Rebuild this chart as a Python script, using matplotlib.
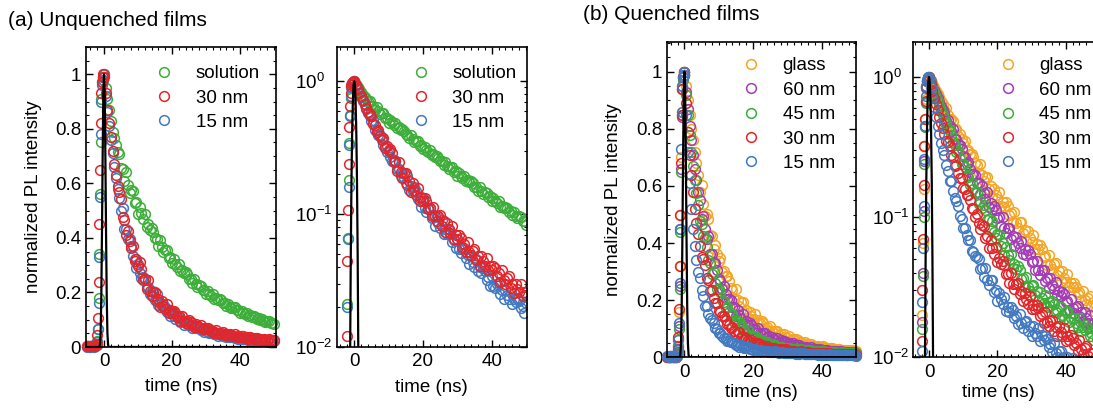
import numpy as np
import matplotlib
matplotlib.use("Agg")
import matplotlib.pyplot as plt
from matplotlib.ticker import MultipleLocator

plt.rcParams['font.family'] = ['Liberation Sans', 'DejaVu Sans']
plt.rcParams['mathtext.fontset'] = 'custom'
plt.rcParams['mathtext.rm'] = 'Liberation Sans'
plt.rcParams['mathtext.it'] = 'Liberation Sans:italic'
plt.rcParams['mathtext.default'] = 'regular'

# time axis (ns): baseline, rising edge, decay
t = [-5.0, -4.6, -4.2, -3.8, -3.4, -3.0, -2.6,
     -2.2, -2.0, -1.8, -1.6, -1.4, -1.2, -1.0, -0.8, -0.6, -0.4, -0.2, 0.0,
     0.5, 1.0, 1.5, 2.0, 2.5, 3.0, 3.5, 4.0,
     4.5, 5.0, 5.5, 6.0, 6.5, 7.0, 7.5, 8.0, 8.5, 9.0,
     9.5, 10.0, 10.5, 11.0, 11.5, 12.0, 12.5, 13.0, 13.5, 14.0,
     14.5, 15.0, 15.5, 16.0, 16.5, 17.0, 17.5, 18.0, 18.5, 19.0,
     19.5, 20.0, 20.5, 21.0, 21.5, 22.0, 22.5, 23.0, 23.5, 24.0,
     24.5, 25.0, 25.5, 26.0, 26.5, 27.0, 27.5, 28.0, 28.5, 29.0,
     29.5, 30.0, 30.5, 31.0, 31.5, 32.0, 32.5, 33.0, 33.5, 34.0,
     34.5, 35.0, 35.5, 36.0, 36.5, 37.0, 37.5, 38.0, 38.5, 39.0,
     39.5, 40.0, 40.5, 41.0, 41.5, 42.0, 42.5, 43.0, 43.5, 44.0,
     44.5, 45.0, 45.5, 46.0, 46.5, 47.0, 47.5, 48.0, 48.5, 49.0,
     49.5, 50.0]

# (a) unquenched films
solution = [0.002, 0.003, 0.001, 0.002, 0.003, 0.002, 0.004,
            0.008, 0.021, 0.066, 0.18, 0.34, 0.56, 0.75, 0.91, 0.97, 0.99, 0.98, 1.0,
            0.95, 0.91, 0.87, 0.83, 0.79, 0.765, 0.74, 0.715,
            0.707, 0.656, 0.652, 0.607, 0.640, 0.593, 0.566, 0.575, 0.572, 0.527,
            0.531, 0.489, 0.515, 0.490, 0.468, 0.487, 0.441, 0.450, 0.429, 0.435,
            0.422, 0.398, 0.397, 0.371, 0.393, 0.366, 0.349, 0.356, 0.354, 0.327,
            0.331, 0.307, 0.321, 0.305, 0.293, 0.306, 0.277, 0.283, 0.271, 0.276,
            0.266, 0.250, 0.250, 0.234, 0.248, 0.230, 0.220, 0.226, 0.225, 0.208,
            0.210, 0.194, 0.205, 0.195, 0.187, 0.195, 0.177, 0.180, 0.173, 0.177,
            0.171, 0.160, 0.161, 0.150, 0.159, 0.148, 0.142, 0.146, 0.145, 0.134,
            0.136, 0.125, 0.132, 0.126, 0.121, 0.126, 0.113, 0.116, 0.111, 0.114,
            0.111, 0.104, 0.105, 0.098, 0.104, 0.097, 0.093, 0.096, 0.095, 0.088,
            0.089, 0.083]
u30 = [0.003, 0.002, 0.004, 0.002, 0.003, 0.005, 0.004,
       0.012, 0.044, 0.107, 0.24, 0.45, 0.65, 0.82, 0.93, 0.97, 0.99, 1.0, 0.99,
       0.93, 0.87, 0.82, 0.77, 0.72, 0.67, 0.63, 0.59,
       0.567, 0.543, 0.475, 0.467, 0.412, 0.426, 0.390, 0.362, 0.371, 0.317,
       0.324, 0.296, 0.311, 0.286, 0.245, 0.249, 0.212, 0.245, 0.206, 0.188,
       0.203, 0.203, 0.167, 0.176, 0.147, 0.170, 0.152, 0.139, 0.158, 0.126,
       0.135, 0.125, 0.133, 0.125, 0.109, 0.112, 0.096, 0.114, 0.096, 0.089,
       0.097, 0.098, 0.082, 0.088, 0.073, 0.086, 0.077, 0.072, 0.081, 0.065,
       0.070, 0.065, 0.070, 0.066, 0.057, 0.060, 0.052, 0.062, 0.052, 0.049,
       0.053, 0.055, 0.045, 0.048, 0.041, 0.048, 0.044, 0.041, 0.047, 0.038,
       0.041, 0.038, 0.041, 0.039, 0.034, 0.036, 0.031, 0.038, 0.032, 0.030,
       0.033, 0.034, 0.028, 0.030, 0.0255, 0.030, 0.0275, 0.026, 0.030, 0.024,
       0.026, 0.0246]
u15 = [0.001, 0.002, 0.001, 0.003, 0.002, 0.001, 0.003,
       0.008, 0.02, 0.065, 0.16, 0.33, 0.55, 0.78, 0.9, 0.96, 0.98, 0.99, 1.0,
       0.92, 0.86, 0.81, 0.76, 0.71, 0.66, 0.62, 0.58,
       0.545, 0.499, 0.509, 0.433, 0.431, 0.397, 0.397, 0.371, 0.333, 0.323,
       0.291, 0.305, 0.271, 0.252, 0.256, 0.249, 0.220, 0.219, 0.195, 0.204,
       0.188, 0.172, 0.193, 0.153, 0.163, 0.150, 0.159, 0.148, 0.129, 0.132,
       0.114, 0.133, 0.112, 0.103, 0.112, 0.112, 0.093, 0.099, 0.082, 0.096,
       0.086, 0.079, 0.090, 0.071, 0.077, 0.071, 0.076, 0.071, 0.062, 0.064,
       0.0555, 0.065, 0.055, 0.051, 0.055, 0.056, 0.0465, 0.049, 0.042, 0.048,
       0.0435, 0.040, 0.046, 0.037, 0.040, 0.036, 0.039, 0.037, 0.032, 0.0335,
       0.029, 0.034, 0.029, 0.028, 0.030, 0.0305, 0.025, 0.027, 0.023, 0.027,
       0.0245, 0.023, 0.026, 0.021, 0.023, 0.0217, 0.0234, 0.0223, 0.0196, 0.0203,
       0.018, 0.0215]

# (b) quenched films
glass = [0.002, 0.001, 0.002, 0.003, 0.001, 0.002, 0.002,
         0.006, 0.02, 0.065, 0.16, 0.32, 0.50, 0.70, 0.86, 0.95, 0.98, 1.0, 0.99,
         0.95, 0.90, 0.85, 0.80, 0.76, 0.72, 0.68, 0.64,
         0.580, 0.605, 0.536, 0.495, 0.501, 0.486, 0.429, 0.426, 0.379, 0.394,
         0.362, 0.337, 0.347, 0.298, 0.301, 0.283, 0.284, 0.268, 0.242, 0.237,
         0.205, 0.238, 0.199, 0.181, 0.195, 0.194, 0.160, 0.167, 0.139, 0.159,
         0.144, 0.134, 0.151, 0.120, 0.129, 0.119, 0.128, 0.120, 0.104, 0.107,
         0.092, 0.108, 0.091, 0.084, 0.092, 0.093, 0.077, 0.081, 0.068, 0.080,
         0.071, 0.066, 0.074, 0.059, 0.064, 0.059, 0.063, 0.059, 0.052, 0.053,
         0.0455, 0.054, 0.0456, 0.0426, 0.046, 0.047, 0.0385, 0.041, 0.035, 0.041,
         0.037, 0.0344, 0.039, 0.0315, 0.034, 0.0315, 0.0338, 0.0318, 0.0282, 0.0294,
         0.0255, 0.0298, 0.0257, 0.024, 0.0266, 0.0273, 0.023, 0.0247, 0.021, 0.0247,
         0.0225, 0.021]
q60 = [0.001, 0.002, 0.002, 0.001, 0.003, 0.002, 0.001,
       0.005, 0.018, 0.04, 0.11, 0.25, 0.45, 0.66, 0.84, 0.94, 0.98, 0.99, 1.0,
       0.93, 0.87, 0.81, 0.76, 0.71, 0.66, 0.62, 0.58,
       0.551, 0.483, 0.496, 0.450, 0.415, 0.424, 0.363, 0.360, 0.331, 0.329,
       0.306, 0.274, 0.267, 0.239, 0.249, 0.222, 0.204, 0.204, 0.199, 0.175,
       0.176, 0.146, 0.167, 0.148, 0.135, 0.151, 0.118, 0.126, 0.114, 0.121,
       0.113, 0.098, 0.100, 0.086, 0.101, 0.084, 0.077, 0.084, 0.084, 0.070,
       0.073, 0.062, 0.072, 0.065, 0.060, 0.068, 0.055, 0.059, 0.054, 0.058,
       0.0546, 0.048, 0.0487, 0.042, 0.049, 0.0417, 0.0384, 0.0418, 0.042, 0.0348,
       0.037, 0.0313, 0.0366, 0.033, 0.0306, 0.0347, 0.0278, 0.0299, 0.0276, 0.0294,
       0.0281, 0.0248, 0.0254, 0.0218, 0.026, 0.0223, 0.0208, 0.023, 0.0234, 0.0197,
       0.0211, 0.0179, 0.021, 0.019, 0.0177, 0.0202, 0.0162, 0.0175, 0.0165, 0.018,
       0.0172, 0.0153]
q45 = [0.002, 0.001, 0.003, 0.002, 0.002, 0.001, 0.002,
       0.006, 0.016, 0.038, 0.10, 0.24, 0.44, 0.65, 0.85, 0.94, 0.97, 0.99, 1.0,
       0.92, 0.85, 0.78, 0.72, 0.67, 0.62, 0.575, 0.535,
       0.477, 0.467, 0.426, 0.418, 0.385, 0.342, 0.330, 0.291, 0.299, 0.261,
       0.240, 0.238, 0.228, 0.199, 0.195, 0.171, 0.176, 0.160, 0.148, 0.151,
       0.124, 0.130, 0.117, 0.122, 0.112, 0.0955, 0.0964, 0.0819, 0.0939, 0.0786,
       0.0712, 0.0763, 0.0752, 0.062, 0.0649, 0.0537, 0.0613, 0.054, 0.0492, 0.0549,
       0.0435, 0.0464, 0.0424, 0.0447, 0.0419, 0.0363, 0.037, 0.0319, 0.0376, 0.032,
       0.0296, 0.0324, 0.0327, 0.0277, 0.0297, 0.0251, 0.0292, 0.0265, 0.0246, 0.028,
       0.0227, 0.0247, 0.0231, 0.0251, 0.0239, 0.021, 0.0218, 0.0191, 0.0229, 0.0199,
       0.0187, 0.0209, 0.0213, 0.0179, 0.0191, 0.0161, 0.0191, 0.0175, 0.0164, 0.019,
       0.0153, 0.0165, 0.0156, 0.0169, 0.0161, 0.0143, 0.015, 0.0132, 0.0157, 0.0136,
       0.0128, 0.0141]
q30 = [0.002, 0.002, 0.001, 0.003, 0.002, 0.001, 0.002,
       0.013, 0.03, 0.07, 0.17, 0.32, 0.50, 0.68, 0.85, 0.94, 0.98, 0.99, 1.0,
       0.89, 0.79, 0.71, 0.64, 0.58, 0.52, 0.47, 0.43,
       0.390, 0.351, 0.343, 0.324, 0.277, 0.269, 0.231, 0.234, 0.208, 0.189,
       0.191, 0.161, 0.158, 0.145, 0.143, 0.132, 0.117, 0.114, 0.101, 0.105,
       0.0912, 0.0823, 0.0878, 0.0872, 0.0705, 0.0731, 0.060, 0.0688, 0.060, 0.0544,
       0.061, 0.0481, 0.051, 0.0463, 0.049, 0.0456, 0.0392, 0.0396, 0.0341, 0.0398,
       0.0335, 0.0305, 0.0334, 0.0338, 0.0282, 0.0299, 0.0251, 0.029, 0.026, 0.0239,
       0.0274, 0.0222, 0.0237, 0.0222, 0.0238, 0.0223, 0.0196, 0.0203, 0.0177, 0.021,
       0.0179, 0.0167, 0.0183, 0.0185, 0.0155, 0.0165, 0.0141, 0.0167, 0.0152, 0.0143,
       0.0162, 0.013, 0.0142, 0.0133, 0.0144, 0.0138, 0.0122, 0.0127, 0.0111, 0.0133,
       0.0114, 0.0106, 0.0117, 0.012, 0.0102, 0.0108, 0.0091, 0.0108, 0.0099, 0.0094,
       0.0108, 0.0088]
q15 = [0.003, 0.002, 0.003, 0.002, 0.004, 0.003, 0.002,
       0.011, 0.025, 0.06, 0.12, 0.26, 0.45, 0.73, 0.86, 0.95, 0.98, 1.0, 0.99,
       0.85, 0.72, 0.61, 0.52, 0.45, 0.39, 0.34, 0.30,
       0.276, 0.235, 0.215, 0.181, 0.180, 0.153, 0.136, 0.131, 0.121, 0.102,
       0.0974, 0.0834, 0.0841, 0.075, 0.0685, 0.0689, 0.0577, 0.0568, 0.0526, 0.0523,
       0.0504, 0.043, 0.0436, 0.0373, 0.0431, 0.0359, 0.0328, 0.0355, 0.0354, 0.0291,
       0.0304, 0.0251, 0.029, 0.026, 0.0239, 0.0269, 0.0213, 0.0227, 0.0212, 0.0229,
       0.0217, 0.0191, 0.0198, 0.0173, 0.0204, 0.0175, 0.0162, 0.0178, 0.0183, 0.0155,
       0.0167, 0.0143, 0.0167, 0.015, 0.0141, 0.0162, 0.0131, 0.0144, 0.0133, 0.0142,
       0.0136, 0.0119, 0.0124, 0.0109, 0.0127, 0.0107, 0.010, 0.011, 0.0111, 0.0094,
       0.0101, 0.0085, 0.010, 0.0092, 0.0086, 0.0099, 0.008, 0.0088, 0.0082, 0.0089,
       0.0086, 0.0076, 0.0079, 0.007, 0.0083, 0.0072, 0.0068, 0.0075, 0.0077, 0.0066,
       0.0071, 0.0061]

# instrument response (black line)
t_irf = [-5, -1.4, -1.2, -1.0, -0.8, -0.6, -0.4, -0.2, 0.0, 0.2, 0.4, 0.6, 0.8, 1.0, 1.2, 1.4, 50]
irf = [1e-5, 1e-5, 0.008, 0.05, 0.18, 0.42, 0.7, 0.93, 1.0, 0.93, 0.7, 0.42, 0.18, 0.05, 0.008, 1e-5, 1e-5]

GREEN = '#3dae3a'
RED = '#e2262b'
BLUE = '#4279c1'
ORANGE = '#f4a623'
PURPLE = '#a43cb6'

fs = 13.5

unq = [(solution, GREEN, 'solution'), (u15, BLUE, '15 nm'), (u30, RED, '30 nm')]
unq_order = ['solution', '30 nm', '15 nm']
que = [(glass, ORANGE, 'glass'), (q60, PURPLE, '60 nm'), (q45, GREEN, '45 nm'),
       (q30, RED, '30 nm'), (q15, BLUE, '15 nm')]
que_order = ['glass', '60 nm', '45 nm', '30 nm', '15 nm']


def panel(ax, series, order, log, xlim, ylim, leg_xy):
    handles = {}
    for y, c, lab in series:
        ln, = ax.plot(t, y, 'o', ms=7, mfc='none', mec=c, mew=1.1, label=lab,
                      clip_on=log)
        handles[lab] = ln
    ax.plot(t_irf, irf, color='black', lw=1.6, zorder=5, clip_on=True)
    ax.set_xlim(*xlim)
    if log:
        ax.set_yscale('log')
    ax.set_ylim(*ylim)
    ax.xaxis.set_major_locator(MultipleLocator(20))
    ax.xaxis.set_minor_locator(MultipleLocator(2))
    if not log:
        ax.set_yticks([0, 0.2, 0.4, 0.6, 0.8, 1.0], ['0', '0.2', '0.4', '0.6', '0.8', '1'])
        ax.yaxis.set_minor_locator(MultipleLocator(0.05))
    ax.tick_params(which='both', direction='in', top=True, right=True, labelsize=fs)
    ax.tick_params(which='major', length=5, width=1.0)
    ax.tick_params(which='minor', length=2.5, width=0.8)
    ax.tick_params(axis='x', which='major', pad=4.5)
    ax.tick_params(axis='y', which='major', pad=3.5)
    for s in ax.spines.values():
        s.set_linewidth(1.2)
    ax.legend([handles[k] for k in order], order, loc='upper left',
              bbox_to_anchor=leg_xy, frameon=False, fontsize=fs,
              handlelength=1.0, handletextpad=1.2, labelspacing=0.39,
              borderpad=0, borderaxespad=0)
    ax.set_xlabel('time (ns)', fontsize=fs)


W, H = 1093, 408
fig = plt.figure(figsize=(W / 100, H / 100), dpi=100)

ax1 = fig.add_axes([86 / W, 1 - 347 / H, 190 / W, 300 / H])
ax2 = fig.add_axes([336.7 / W, 1 - 347 / H, 190 / W, 300 / H])
ax3 = fig.add_axes([667.3 / W, 1 - 357.3 / H, 188.7 / W, 315 / H])
ax4 = fig.add_axes([913.3 / W, 1 - 357.3 / H, 188.7 / W, 315 / H])

panel(ax1, unq, unq_order, False, (-5.3, 50.6), (0, 1.1), (0.36, 0.94))
panel(ax2, unq, unq_order, True, (-5.1, 50.2), (0.01, 1.81), (0.392, 0.94))
panel(ax3, que, que_order, False, (-5.0, 50.0), (0, 1.103), (0.392, 0.953))
panel(ax4, que, que_order, True, (-4.6, 50.6), (0.01, 1.77), (0.45, 0.953))

for ax in (ax1, ax3):
    ax.set_ylabel('normalized PL intensity', fontsize=fs)
ax1.yaxis.set_label_coords(-0.232, 0.5)
ax3.yaxis.set_label_coords(-0.24, 0.5)
ax1.xaxis.set_label_coords(0.5, -0.103)
ax2.xaxis.set_label_coords(0.5, -0.108)
ax3.xaxis.set_label_coords(0.5, -0.086)
ax4.xaxis.set_label_coords(0.45, -0.086)

# log panels: labels start at a fixed x left of the axis
for ax in (ax2, ax4):
    ax.tick_params(axis='y', which='major', pad=30)
    plt.setp(ax.get_yticklabels(), ha='left')

fig.text(8 / W, 1 - 20 / H, '(a) Unquenched films', fontsize=15, va='center', ha='left')
fig.text(583 / W, 1 - 15 / H, '(b) Quenched films', fontsize=15, va='center', ha='left')

fig.savefig('out.png', dpi=100)
